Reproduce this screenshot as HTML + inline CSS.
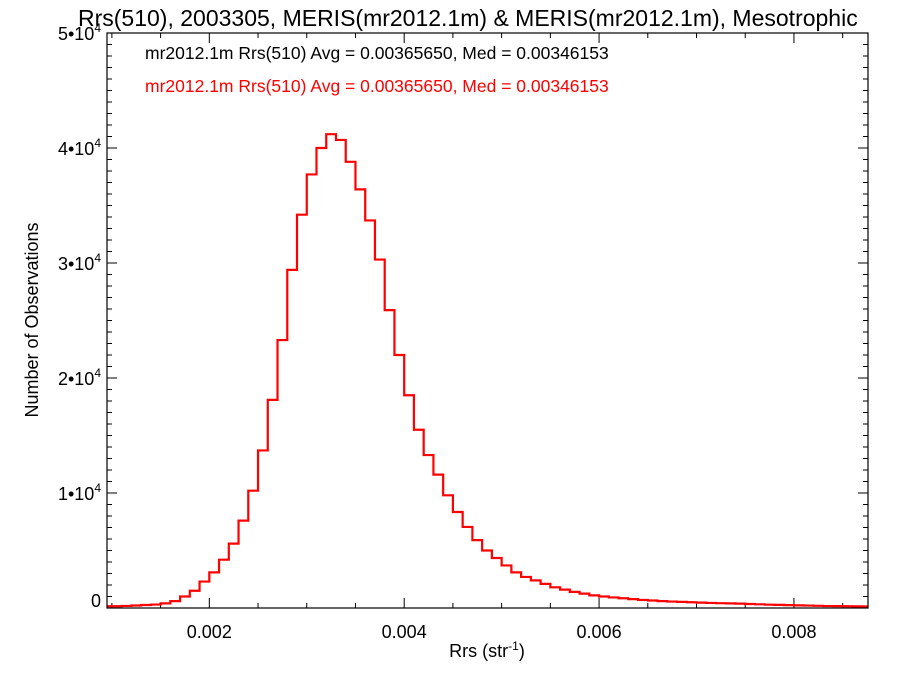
<!DOCTYPE html>
<html><head><meta charset="utf-8"><style>
body{margin:0;background:#fff;}
svg{display:block;font-family:"Liberation Sans",sans-serif;}
</style></head><body>
<svg id="chart" width="900" height="675" viewBox="0 0 900 675">
<text x="78" y="26" font-size="23">Rrs(510), 2003305, MERIS(mr2012.1m) &amp; MERIS(mr2012.1m), Mesotrophic</text>
<text x="145" y="59" font-size="17.5">mr2012.1m Rrs(510) Avg = 0.00365650, Med = 0.00346153</text>
<text x="145" y="92" font-size="17.5" fill="#ff0000">mr2012.1m Rrs(510) Avg = 0.00365650, Med = 0.00346153</text>
<text transform="translate(38,320) rotate(-90)" text-anchor="middle" font-size="18">Number of Observations</text>
<text x="487" y="657" text-anchor="middle" font-size="18">Rrs (str<tspan font-size="12" dy="-7">-1</tspan><tspan dy="7">)</tspan></text>
<g id="ticks"></g>
<g id="marks"></g>
<rect x="107" y="33" width="761" height="575" fill="none" stroke="#000" stroke-width="1.2"/>
</svg>
<script>
const binStart = 0.0010;
const binWidth = 0.0001;
const counts = [150,180,220,260,300,400,600,1000,1500,2300,3100,4200,5600,7600,10200,13700,18100,23300,29400,34200,37700,40000,41200,40700,38800,36400,33700,30300,25900,22000,18500,15500,13300,11600,9800,8350,7050,5900,5000,4350,3700,3100,2700,2400,2100,1800,1600,1400,1250,1100,1000,920,850,770,700,650,600,560,530,500,470,440,420,400,380,350,320,290,270,250,230,210,190,170,160,150,140,130];
const xTickValues = [0.002,0.004,0.006,0.008];
const xTickLabels = ["0.002","0.004","0.006","0.008"];
const yTickValues = [0,10000,20000,30000,40000,50000];
const yTickLabels = ["0","1","2","3","4","5"];

const X0=107,X1=868,Y0=608,Y1=33, xmin=0.00095, xmax=0.00876, ymax=50000;
const sx=v=>X0+(v-xmin)/(xmax-xmin)*(X1-X0);
const sy=v=>Y0-v/ymax*(Y0-Y1);
const NS="http://www.w3.org/2000/svg";
const tg=document.getElementById('ticks'), mg=document.getElementById('marks');
function ln(x1,y1,x2,y2,name){const l=document.createElementNS(NS,'line');
l.setAttribute('x1',x1);l.setAttribute('y1',y1);l.setAttribute('x2',x2);l.setAttribute('y2',y2);
l.setAttribute('stroke','#000');l.setAttribute('stroke-width','1');


tg.appendChild(l);}
for(let v=0.001; v<=xmax; v+=0.0005){const x=sx(v);const maj=Math.abs(v/0.002-Math.round(v/0.002))<1e-6;const L=maj?10:5;
ln(x,Y0,x,Y0-L,'x-tick');ln(x,Y1,x,Y1+L,'x-tick-top');}
for(let v=0; v<=ymax; v+=1000){const y=sy(v);const maj=v%10000===0;const L=maj?10:5;
ln(X0,y,X0+L,y,'y-tick');ln(X1,y,X1-L,y,'y-tick-right');}
xTickValues.forEach((v,i)=>{const t=document.createElementNS(NS,'text');
t.setAttribute('x',sx(v));t.setAttribute('y',Y0+30);t.setAttribute('text-anchor','middle');t.setAttribute('font-size','18');
t.textContent=xTickLabels[i];


tg.appendChild(t);});
yTickValues.forEach((v,i)=>{const t=document.createElementNS(NS,'text');
t.setAttribute('x',X0-6);t.setAttribute('y',v===0?sy(v)-1:sy(v)+7);t.setAttribute('text-anchor','end');t.setAttribute('font-size','18');
if(v===0){t.textContent='0';}else{t.textContent=yTickLabels[i]+'\u202210';const s=document.createElementNS(NS,'tspan');s.setAttribute('font-size','12');s.setAttribute('dy','-8');s.textContent='4';t.appendChild(s);}


tg.appendChild(t);});
let d='';
counts.forEach((c,i)=>{const a=Math.max(sx(binStart+i*binWidth),X0),b=Math.min(sx(binStart+(i+1)*binWidth),X1);const y=sy(c);
d+=(i===0?'M'+X0+','+y:'L'+a+','+y)+'L'+b+','+y;});
const p=document.createElementNS(NS,'path');
p.setAttribute('d',d);p.setAttribute('fill','none');p.setAttribute('stroke','#ff0000');p.setAttribute('stroke-width','2.2');


mg.appendChild(p);
</script>
</body></html>
